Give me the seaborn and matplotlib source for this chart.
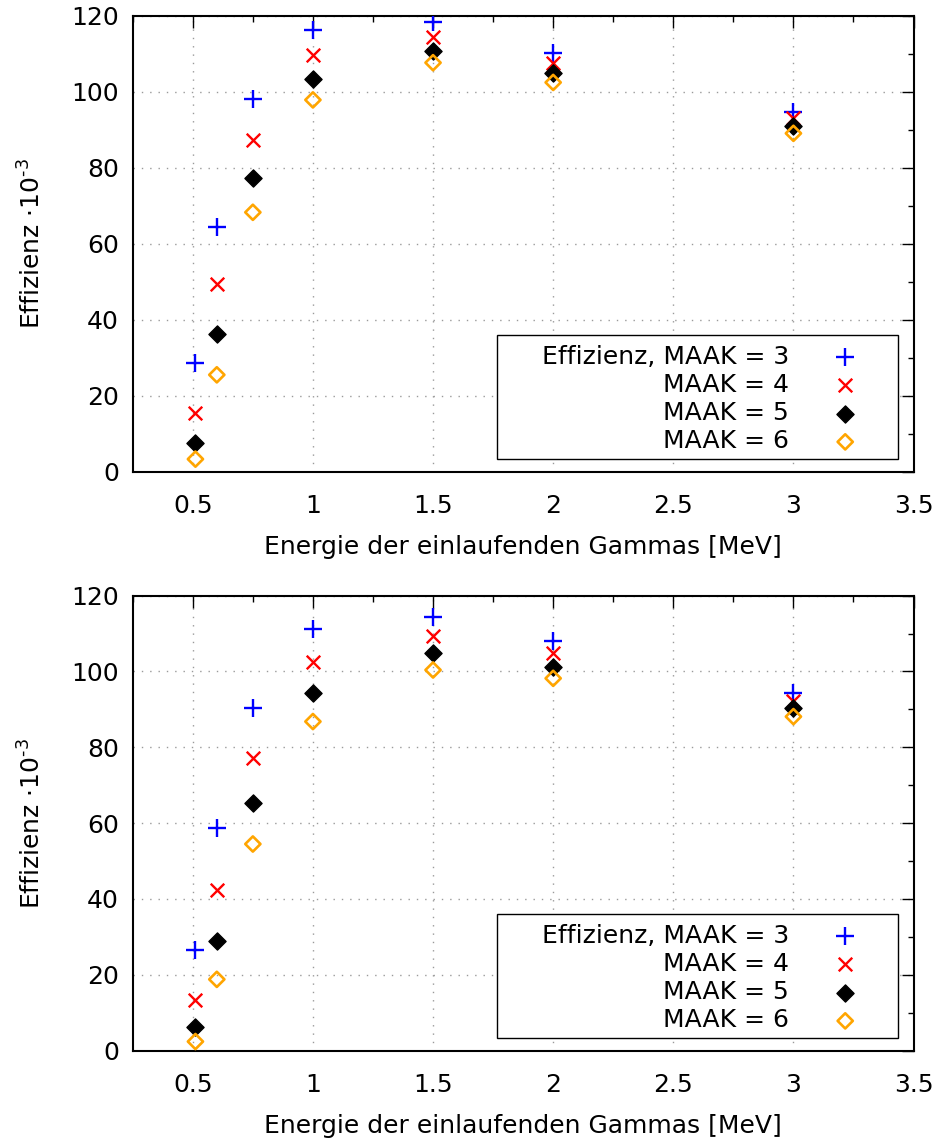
import numpy as np
import pandas as pd
import matplotlib
matplotlib.use("Agg")
import matplotlib.pyplot as plt
from matplotlib.patches import Rectangle
from matplotlib.ticker import MultipleLocator
import seaborn as sns

# Gamma energies [MeV]
energies = [0.511, 0.6, 0.75, 1.0, 1.5, 2.0, 3.0]

# Efficiency (x 10^-3), upper panel
top_maak3 = [28.7, 64.5, 98.1, 116.3, 118.3, 110.2, 94.6]
top_maak4 = [15.4, 49.4, 87.4, 109.7, 114.4, 107.6, 93.1]
top_maak5 = [7.5, 36.3, 77.3, 103.5, 110.9, 105.1, 91.0]
top_maak6 = [3.3, 25.5, 68.3, 97.9, 107.7, 102.5, 89.1]

# Efficiency (x 10^-3), lower panel
bot_maak3 = [26.6, 58.6, 90.3, 111.2, 114.5, 108.1, 94.2]
bot_maak4 = [13.4, 42.4, 77.1, 102.4, 109.4, 104.8, 92.3]
bot_maak5 = [6.3, 28.9, 65.2, 94.2, 104.8, 101.3, 90.3]
bot_maak6 = [2.4, 18.8, 54.5, 86.8, 100.4, 98.2, 88.1]

series_labels = ["Effizienz, MAAK = 3", "MAAK = 4", "MAAK = 5", "MAAK = 6"]
x_ticks = [0.5, 1, 1.5, 2, 2.5, 3, 3.5]
y_ticks = [0, 20, 40, 60, 80, 100, 120]
x_label = "Energie der einlaufenden Gammas [MeV]"
y_label = "Effizienz ·10$^{\\text{-}3}$"

sns.set_theme(style="white")
plt.rcParams["font.family"] = ["DejaVu Sans"]
plt.rcParams["mathtext.default"] = "regular"
plt.rcParams["text.color"] = "black"
plt.rcParams["axes.labelcolor"] = "black"
plt.rcParams["xtick.color"] = "black"
plt.rcParams["ytick.color"] = "black"
FS = 18

styles = [
    dict(marker="+", s=170, color="#0000ff", linewidth=1.7),
    dict(marker="x", s=95, color="#ff0000", linewidth=1.7),
    dict(marker="D", s=76, color="black", edgecolor="black", linewidth=1.0),
    dict(marker="D", s=60, facecolor="none", edgecolor="#ffa500", linewidth=1.9),
]


def make_frame(values):
    rows = []
    for lab, vals in zip(series_labels, values):
        for e, v in zip(energies, vals):
            rows.append({"energie": e, "effizienz": v, "serie": lab})
    return pd.DataFrame(rows)


def draw_panel(ax, values):
    df = make_frame(values)
    for lab, st in zip(series_labels, styles):
        sub = df[df["serie"] == lab]
        sns.scatterplot(data=sub, x="energie", y="effizienz", ax=ax,
                        label=lab, zorder=3, **st)
    ax.set_xlim(0.25, 3.5)
    ax.set_ylim(0, 120)
    ax.set_xticks(x_ticks)
    ax.set_xticklabels([f"{t:g}" for t in x_ticks])
    ax.set_yticks(y_ticks)
    ax.xaxis.set_minor_locator(MultipleLocator(0.25))
    ax.yaxis.set_minor_locator(MultipleLocator(10))
    ax.tick_params(which="both", direction="in", top=True, right=True,
                   labelsize=FS, colors="black")
    ax.tick_params(which="major", length=8.5, width=1.0)
    ax.tick_params(which="minor", length=4.3, width=1.0)
    ax.tick_params(axis="x", which="major", pad=16)
    ax.tick_params(axis="y", which="major", pad=10)
    ax.grid(True, which="major", color="#9a9a9a", linestyle=(0, (1, 5)),
            linewidth=1.0)
    ax.set_axisbelow(True)
    for sp in ax.spines.values():
        sp.set_color("black")
        sp.set_linewidth(1.5)
    ax.set_xlabel(x_label, fontsize=FS, labelpad=12)
    ax.set_ylabel(y_label, fontsize=FS, labelpad=18)

    # legend: white box with text right-aligned, marker on the right
    ax.add_patch(Rectangle((0.4666, 0.028), 0.5135, 0.272,
                           transform=ax.transAxes, facecolor="white",
                           edgecolor="black", linewidth=1.0, zorder=4))
    leg = ax.legend(loc="lower right", bbox_to_anchor=(0.9445, 0.040),
                    borderaxespad=0, frameon=False, markerfirst=False,
                    fontsize=FS, handlelength=2.0, handletextpad=1.24,
                    labelspacing=0.17, borderpad=0.0)
    for t in leg.get_texts():
        t.set_color("black")
    leg.set_zorder(5)


fig = plt.figure(figsize=(9.42, 11.42), dpi=100)
ax_top = fig.add_axes([0.1409, 0.5870, 0.8289, 0.3990])
ax_bot = fig.add_axes([0.1409, 0.0800, 0.8289, 0.3984])

draw_panel(ax_top, [top_maak3, top_maak4, top_maak5, top_maak6])
draw_panel(ax_bot, [bot_maak3, bot_maak4, bot_maak5, bot_maak6])

fig.savefig("out.png", dpi=100, facecolor="white")
